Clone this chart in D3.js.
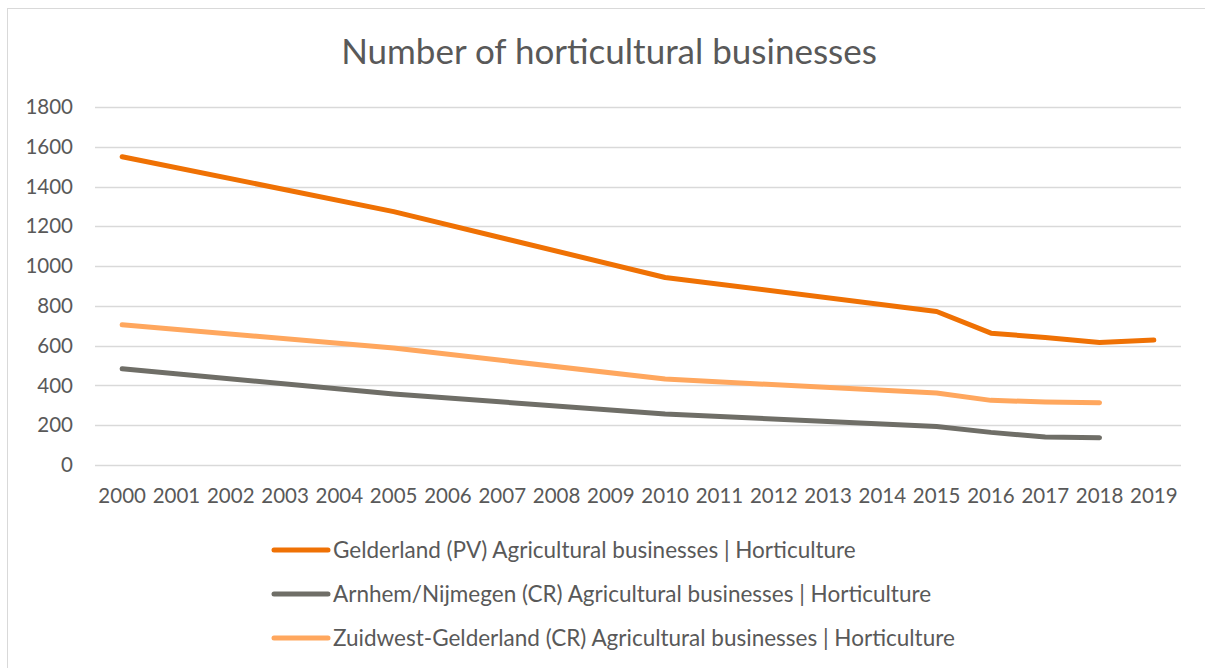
<!DOCTYPE html>
<html>
<head>
<meta charset="utf-8">
<script src="https://cdn.jsdelivr.net/npm/d3@7"></script>
<style>
  html, body { margin: 0; padding: 0; background: #fff; }
  svg { display: block; font-family: Lato, "Open Sans", sans-serif; }
</style>
</head>
<body>
<svg id="chart" width="1205" height="668"></svg>
<script>
// Years on the category axis
const years = ["2000","2001","2002","2003","2004","2005","2006","2007","2008","2009",
               "2010","2011","2012","2013","2014","2015","2016","2017","2018","2019"];

// Number of horticultural businesses per region (null = no figure for that year)
const gelderland   = [1550, null, null, null, null, 1274, null, null, null, null,
                      943, null, null, null, null, 772, 663, 641, 616, 628];
const arnhemNijm   = [484, null, null, null, null, 357, null, null, null, null,
                      256, null, null, null, null, 194, 164, 141, 137, null];
const zuidwestGeld = [705, null, null, null, null, 588, null, null, null, null,
                      432, null, null, null, null, 362, 325, 317, 313, null];

const seriesNames = [
  "Gelderland (PV) Agricultural businesses | Horticulture",
  "Arnhem/Nijmegen (CR) Agricultural businesses | Horticulture",
  "Zuidwest-Gelderland (CR) Agricultural businesses | Horticulture"
];
const seriesColors = ["#EF7104", "#6F6E67", "#FFA75E"];
const yTicks = [0, 200, 400, 600, 800, 1000, 1200, 1400, 1600, 1800];
const chartTitle = "Number of horticultural businesses";

const series = [gelderland, arnhemNijm, zuidwestGeld].map((vals, i) => ({
  name: seriesNames[i],
  color: seriesColors[i],
  points: vals.map((v, j) => ({ year: years[j], value: v }))
}));

const svg = d3.select("#chart");

// outer chart frame
svg.append("rect")
  .attr("x", 7.5).attr("y", 8.5)
  .attr("width", 1210).attr("height", 680)
  .attr("fill", "#fff").attr("stroke", "#d9d9d9").attr("stroke-width", 1);

const plot = { left: 95, right: 1181, top: 107, bottom: 465 };

const x = d3.scaleBand().domain(years).range([plot.left, plot.right]);
const y = d3.scaleLinear().domain([0, 1800]).range([plot.bottom, plot.top]);

// horizontal gridlines
svg.append("g")
  .selectAll("line")
  .data(yTicks)
  .join("line")
  .attr("x1", plot.left).attr("x2", plot.right)
  .attr("y1", d => Math.round(y(d)) + 0.5).attr("y2", d => Math.round(y(d)) + 0.5)
  .attr("stroke", "#d9d9d9").attr("stroke-width", 1.5);

// y axis labels
const yAxis = svg.append("g")
  .attr("transform", `translate(${plot.left - 22},0)`)
  .call(d3.axisLeft(y).tickValues(yTicks).tickFormat(d3.format("d")).tickSize(0).tickPadding(0));
yAxis.select(".domain").remove();
yAxis.selectAll("text")
  .attr("fill", "#595959")
  .style("font-size", "20.5px")
  .style("font-family", "Lato, sans-serif");

// x axis labels
const xAxis = svg.append("g")
  .attr("transform", `translate(0,${plot.bottom + 23})`)
  .call(d3.axisBottom(x).tickSize(0).tickPadding(0));
xAxis.select(".domain").remove();
xAxis.selectAll("text")
  .attr("fill", "#595959")
  .style("font-size", "20.5px")
  .style("font-family", "Lato, sans-serif");

// series lines (missing years are bridged)
const line = d3.line()
  .x(d => x(d.year) + x.bandwidth() / 2)
  .y(d => y(d.value));

svg.append("g")
  .selectAll("path")
  .data(series)
  .join("path")
  .attr("d", d => line(d.points.filter(p => p.value !== null)))
  .attr("fill", "none")
  .attr("stroke", d => d.color)
  .attr("stroke-width", 5)
  .attr("stroke-linejoin", "round")
  .attr("stroke-linecap", "round");

// title
svg.append("text")
  .attr("x", 609).attr("y", 64)
  .attr("text-anchor", "middle")
  .attr("fill", "#595959")
  .style("font-size", "35px")
  .text(chartTitle);

// legend
const legend = svg.append("g")
  .selectAll("g")
  .data(series)
  .join("g")
  .attr("transform", (d, i) => `translate(0,${550 + i * 44})`);
legend.append("line")
  .attr("x1", 274).attr("x2", 328)
  .attr("y1", 0).attr("y2", 0)
  .attr("stroke", d => d.color)
  .attr("stroke-width", 5)
  .attr("stroke-linecap", "round");
legend.append("text")
  .attr("x", 333).attr("y", 8)
  .attr("fill", "#595959")
  .style("font-size", "22.5px")
  .text(d => d.name);
</script>
</body>
</html>
